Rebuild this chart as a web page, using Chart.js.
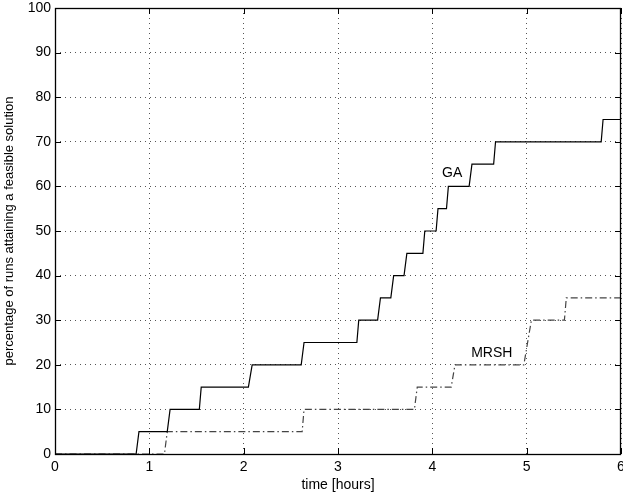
<!DOCTYPE html>
<html>
<head>
<meta charset="utf-8">
<script src="https://cdn.jsdelivr.net/npm/chart.js@4/dist/chart.umd.min.js"></script>
<style>
  html, body { margin: 0; padding: 0; background: #fff; }
  #wrap { width: 623px; height: 494px; }
</style>
</head>
<body>
<div id="wrap"><canvas id="grafico" width="623" height="494"></canvas></div>
<script>
// datos
const gaX = [0, 0.86, 0.89, 1.19, 1.22, 1.53, 1.55, 2.05, 2.09, 2.61, 2.64, 3.20, 3.22, 3.42, 3.45, 3.56, 3.59, 3.70, 3.73, 3.90, 3.92, 4.04, 4.06, 4.15, 4.17, 4.39, 4.42, 4.65, 4.67, 5.79, 5.81, 6];
const gaY = [0, 0, 5, 5, 10, 10, 15, 15, 20, 20, 25, 25, 30, 30, 35, 35, 40, 40, 45, 45, 50, 50, 55, 55, 60, 60, 65, 65, 70, 70, 75, 75];
const mrshX = [0, 1.16, 1.19, 2.62, 2.64, 3.81, 3.84, 4.20, 4.24, 4.97, 5.05, 5.40, 5.42, 6];
const mrshY = [0, 0, 5, 5, 10, 10, 15, 15, 20, 20, 30, 30, 35, 35];
const xTicks = [0, 1, 2, 3, 4, 5, 6];
const yTicks = [0, 10, 20, 30, 40, 50, 60, 70, 80, 90, 100];
const etiquetas = [
  { text: 'GA', x: 4.21, y: 63 },
  { text: 'MRSH', x: 4.63, y: 22.7 }
];

const fuente = 'Liberation Sans, Arial, Helvetica, sans-serif';

function puntos(xs, ys) {
  return xs.map((x, i) => ({ x: x, y: ys[i] }));
}

// caja, ticks hacia dentro y textos
const marco = {
  id: 'marco',
  afterDraw(chart) {
    const ctx = chart.ctx;
    const a = chart.chartArea;
    const sx = chart.scales.x, sy = chart.scales.y;
    ctx.save();
    ctx.strokeStyle = '#000';
    ctx.lineWidth = 1;
    ctx.setLineDash([]);
    ctx.beginPath();
    xTicks.forEach(t => {
      const px = Math.round(sx.getPixelForValue(t)) + 0.5;
      ctx.moveTo(px, a.bottom); ctx.lineTo(px, a.bottom - 6);
      ctx.moveTo(px, a.top); ctx.lineTo(px, a.top + 6);
    });
    yTicks.forEach(t => {
      const py = Math.round(sy.getPixelForValue(t)) + 0.5;
      ctx.moveTo(a.left, py); ctx.lineTo(a.left + 6, py);
      ctx.moveTo(a.right, py); ctx.lineTo(a.right - 6, py);
    });
    ctx.stroke();
    ctx.lineWidth = 1.3;
    ctx.strokeRect(Math.round(a.left) + 0.5, Math.round(a.top) + 0.5, Math.round(a.right - a.left) - 1, Math.round(a.bottom - a.top));
    ctx.fillStyle = '#000';
    ctx.font = '14px ' + fuente;
    ctx.textAlign = 'center';
    ctx.textBaseline = 'middle';
    etiquetas.forEach(e => {
      ctx.fillText(e.text, sx.getPixelForValue(e.x), sy.getPixelForValue(e.y));
    });
    ctx.restore();
  }
};

const ctx = document.getElementById('grafico');
const chart1 = new Chart(ctx, {
  type: 'scatter',
  data: {
    datasets: [
      {
        label: 'GA',
        data: puntos(gaX, gaY),
        showLine: true,
        borderColor: '#000',
        borderWidth: 1.2,
        pointRadius: 0,
        tension: 0
      },
      {
        label: 'MRSH',
        data: puntos(mrshX, mrshY),
        showLine: true,
        borderColor: '#444',
        borderWidth: 1.2,
        borderDash: [7, 3, 1.5, 3],
        pointRadius: 0,
        tension: 0
      }
    ]
  },
  options: {
    responsive: false,
    animation: false,
    layout: { padding: { top: 8, right: 2, left: 0, bottom: 0 } },
    plugins: {
      legend: { display: false },
      tooltip: { enabled: false }
    },
    scales: {
      x: {
        type: 'linear',
        min: 0,
        max: 6,
        afterBuildTicks: s => { s.ticks = xTicks.map(v => ({ value: v })); },
        afterFit: s => { s.height = 40; s.paddingLeft = 0; s.paddingRight = 0; },
        ticks: { color: '#000', font: { family: fuente, size: 14 }, padding: 5, maxRotation: 0 },
        grid: { color: '#555', lineWidth: 1, drawTicks: false, tickLength: 0 },
        border: { display: false, dash: [1, 4] },
        title: { display: true, text: 'time [hours]', color: '#000', font: { family: fuente, size: 14 }, padding: { top: 0, bottom: 0 } }
      },
      y: {
        type: 'linear',
        min: 0,
        max: 100,
        afterBuildTicks: s => { s.ticks = yTicks.map(v => ({ value: v })); },
        afterFit: s => { s.width = 55; s.paddingTop = 0; s.paddingBottom = 0; },
        ticks: { color: '#000', font: { family: fuente, size: 14 }, padding: 4 },
        grid: { color: '#555', lineWidth: 1, drawTicks: false, tickLength: 0 },
        border: { display: false, dash: [1, 4] },
        title: { display: true, text: 'percentage of runs attaining a feasible solution', color: '#000', font: { family: fuente, size: 13 }, padding: { top: 2, bottom: 0 } }
      }
    }
  },
  plugins: [marco]
});
</script>
</body>
</html>
